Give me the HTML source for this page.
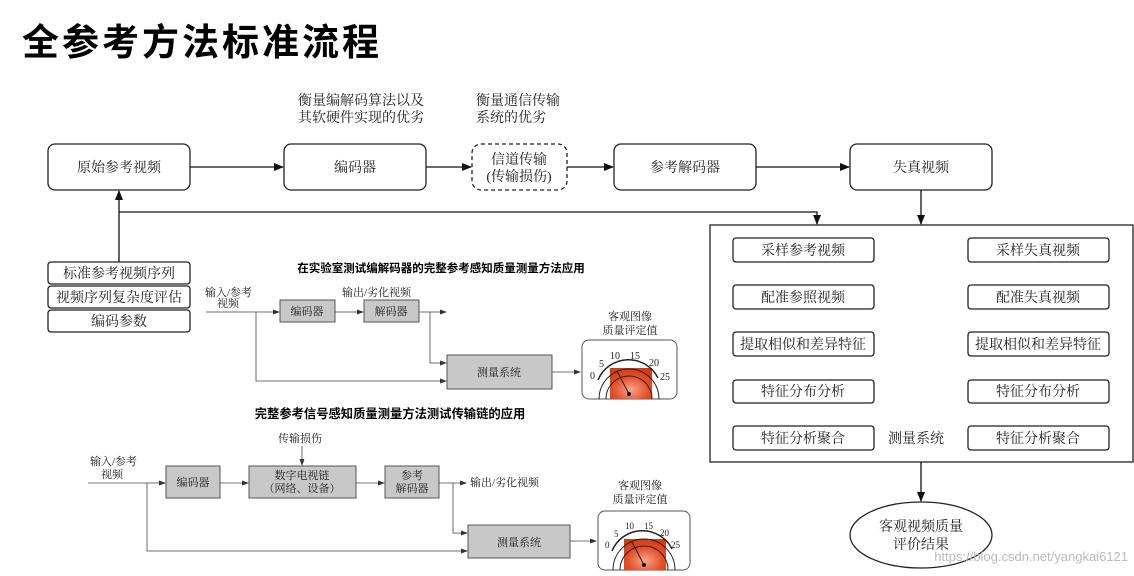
<!DOCTYPE html>
<html><head><meta charset="utf-8"><style>
html,body{margin:0;padding:0;background:#fff;}
svg{display:block;}
text{font-family:"Liberation Serif","Noto Serif CJK SC","Noto Sans CJK SC",serif;fill:#222;}
.s{font-family:"Liberation Sans","Noto Sans CJK SC",sans-serif;}
</style></head><body>
<svg width="1134" height="576" viewBox="0 0 1134 576" xmlns="http://www.w3.org/2000/svg">
<defs>
<marker id="a" markerWidth="10" markerHeight="10" refX="9" refY="5" orient="auto" markerUnits="userSpaceOnUse"><path d="M0,1 L10,5 L0,9 z" fill="#111"/></marker>
<marker id="b" markerWidth="7" markerHeight="7" refX="6" refY="3.5" orient="auto" markerUnits="userSpaceOnUse"><path d="M0,1 L7,3.5 L0,6 z" fill="#333"/></marker>
<radialGradient id="g" cx="0.5" cy="0.7" r="0.7"><stop offset="0" stop-color="#f7a58a"/><stop offset="0.6" stop-color="#e4502a"/><stop offset="1" stop-color="#d83a10"/></radialGradient>
</defs>
<text x="22" y="55" class="s" font-size="37" font-weight="bold" letter-spacing="3" style="fill:#000">全参考方法标准流程</text>

<g font-size="14">
<text x="298" y="105">衡量编解码算法以及</text>
<text x="298" y="122">其软硬件实现的优劣</text>
<text x="476" y="105">衡量通信传输</text>
<text x="476" y="122">系统的优劣</text>
</g>

<g fill="#fff" stroke="#222" stroke-width="1.3">
<rect x="48" y="144" width="142" height="46" rx="7"/>
<rect x="284" y="144" width="142" height="46" rx="7"/>
<rect x="472" y="144" width="95" height="46" rx="9" stroke-dasharray="4,3"/>
<rect x="614" y="144" width="142" height="46" rx="7"/>
<rect x="850" y="144" width="142" height="46" rx="7"/>
<rect x="48" y="262" width="142" height="22" rx="3"/>
<rect x="48" y="286" width="142" height="22" rx="3"/>
<rect x="48" y="310" width="142" height="22" rx="3"/>
<rect x="710" y="225" width="423" height="237"/>
</g>
<g font-size="14" text-anchor="middle">
<text x="119" y="172">原始参考视频</text>
<text x="355" y="172">编码器</text>
<text x="519" y="164">信道传输</text>
<text x="519" y="181">(传输损伤)</text>
<text x="685" y="172">参考解码器</text>
<text x="921" y="172">失真视频</text>
<text x="119" y="278">标准参考视频序列</text>
<text x="119" y="302">视频序列复杂度评估</text>
<text x="119" y="326">编码参数</text>
</g>
<g stroke="#111" stroke-width="1.3" fill="none" marker-end="url(#a)">
<line x1="190" y1="167" x2="283" y2="167"/>
<line x1="426" y1="167" x2="471" y2="167"/>
<line x1="567" y1="167" x2="613" y2="167"/>
<line x1="756" y1="167" x2="849" y2="167"/>
<line x1="921" y1="190" x2="921" y2="224"/>
<line x1="119" y1="262" x2="119" y2="191"/>
<polyline points="119,212 817,212 817,224"/>
<line x1="921" y1="462" x2="921" y2="501"/>
</g>

<g fill="#fff" stroke="#222" stroke-width="1.3">
<rect x="733" y="238" width="141" height="24" rx="3"/>
<rect x="733" y="285" width="141" height="24" rx="3"/>
<rect x="733" y="332" width="141" height="24" rx="3"/>
<rect x="733" y="380" width="141" height="23" rx="3"/>
<rect x="733" y="426" width="141" height="24" rx="3"/>
<rect x="968" y="238" width="141" height="24" rx="3"/>
<rect x="968" y="285" width="141" height="24" rx="3"/>
<rect x="968" y="332" width="141" height="24" rx="3"/>
<rect x="968" y="380" width="141" height="23" rx="3"/>
<rect x="968" y="426" width="141" height="24" rx="3"/>
<ellipse cx="921" cy="535" rx="71" ry="33"/>
</g>
<g font-size="14" text-anchor="middle">
<text x="803" y="255">采样参考视频</text>
<text x="803" y="302">配准参照视频</text>
<text x="803" y="349">提取相似和差异特征</text>
<text x="803" y="396">特征分布分析</text>
<text x="803" y="443">特征分析聚合</text>
<text x="1038" y="255">采样失真视频</text>
<text x="1038" y="302">配准失真视频</text>
<text x="1038" y="349">提取相似和差异特征</text>
<text x="1038" y="396">特征分布分析</text>
<text x="1038" y="443">特征分析聚合</text>
<text x="916" y="443">测量系统</text>
<text x="921" y="531">客观视频质量</text>
<text x="921" y="549">评价结果</text>
</g>
<text x="1128" y="561" class="s" font-size="13" text-anchor="end" style="fill:#bbb">https://blog.csdn.net/yangkai6121</text>

<!-- diagram 1 -->
<text x="441" y="272" class="s" font-size="11.5" font-weight="bold" text-anchor="middle" style="fill:#000">在实验室测试编解码器的完整参考感知质量测量方法应用</text>
<g font-size="11" style="fill:#444">
<text x="205" y="296">输入/参考</text>
<text x="217" y="307">视频</text>
<text x="342" y="296">输出/劣化视频</text>
<text x="630" y="320" text-anchor="middle">客观图像</text>
<text x="630" y="334" text-anchor="middle">质量评定值</text>
</g>
<g fill="#c8c8c8" stroke="#555" stroke-width="1">
<rect x="280" y="300" width="55" height="22"/>
<rect x="364" y="300" width="55" height="22"/>
<rect x="447" y="355" width="105" height="34"/>
</g>
<g font-size="11" text-anchor="middle" style="fill:#333">
<text x="307" y="315">编码器</text>
<text x="391" y="315">解码器</text>
<text x="499" y="376">测量系统</text>
</g>
<g stroke="#444" stroke-width="0.8" fill="none" marker-end="url(#b)">
<line x1="206" y1="312" x2="279" y2="312"/>
<line x1="335" y1="312" x2="363" y2="312"/>
<line x1="419" y1="312" x2="446" y2="312"/>
<polyline points="430,312 430,363 446,363"/>
<polyline points="256,312 256,381 446,381"/>
<line x1="552" y1="372" x2="580" y2="372"/>
</g>
<rect x="582" y="340" width="95" height="59" rx="7" fill="#fff" stroke="#555"/>
<rect x="610" y="368" width="42" height="31" fill="url(#g)"/>
<g fill="none" stroke="#222" stroke-width="1">
<path d="M599,399 A30,30 0 0 1 659,399"/>
<path d="M606,399 A23,23 0 0 1 652,399"/>
<path d="M598,380 A33,33 0 0 1 658,378" stroke-width="1.5"/>
<line x1="629" y1="394" x2="617" y2="371"/>
</g>
<circle cx="629" cy="394" r="2" fill="#000"/>
<g font-size="10" style="fill:#222">
<text x="590" y="379">0</text><text x="599" y="367">5</text><text x="610" y="359">10</text><text x="630" y="359">15</text><text x="649" y="366">20</text><text x="660" y="380">25</text>
</g>

<!-- diagram 2 -->
<text x="390" y="418" class="s" font-size="12.3" font-weight="bold" text-anchor="middle" style="fill:#000">完整参考信号感知质量测量方法测试传输链的应用</text>
<g font-size="11" style="fill:#444">
<text x="278" y="442">传输损伤</text>
<text x="90" y="465">输入/参考</text>
<text x="101" y="478">视频</text>
<text x="470" y="486">输出/劣化视频</text>
<text x="640" y="489" text-anchor="middle">客观图像</text>
<text x="640" y="503" text-anchor="middle">质量评定值</text>
</g>
<g fill="#c8c8c8" stroke="#555" stroke-width="1">
<rect x="166" y="466" width="54" height="32"/>
<rect x="249" y="466" width="107" height="32"/>
<rect x="385" y="466" width="54" height="32"/>
<rect x="468" y="525" width="102" height="33"/>
</g>
<g font-size="11" text-anchor="middle" style="fill:#333">
<text x="193" y="486">编码器</text>
<text x="302" y="479">数字电视链</text>
<text x="302" y="492">（网络、设备）</text>
<text x="412" y="479">参考</text>
<text x="412" y="492">解码器</text>
<text x="519" y="546">测量系统</text>
</g>
<g stroke="#444" stroke-width="0.8" fill="none" marker-end="url(#b)">
<line x1="302" y1="446" x2="302" y2="465"/>
<line x1="88" y1="483" x2="165" y2="483"/>
<line x1="220" y1="483" x2="248" y2="483"/>
<line x1="356" y1="483" x2="384" y2="483"/>
<line x1="439" y1="483" x2="466" y2="483"/>
<polyline points="453,483 453,533 467,533"/>
<polyline points="147,483 147,551 467,551"/>
<line x1="570" y1="541" x2="596" y2="541"/>
</g>
<rect x="598" y="511" width="92" height="59" rx="7" fill="#fff" stroke="#555"/>
<rect x="624" y="539" width="42" height="31" fill="url(#g)"/>
<g fill="none" stroke="#222" stroke-width="1">
<path d="M613,570 A31,31 0 0 1 675,570"/>
<path d="M620,570 A24,24 0 0 1 668,570"/>
<path d="M612,551 A33,33 0 0 1 672,549" stroke-width="1.5"/>
<line x1="644" y1="565" x2="632" y2="542"/>
</g>
<circle cx="644" cy="565" r="2" fill="#000"/>
<g font-size="9" style="fill:#222">
<text x="605" y="548">0</text><text x="614" y="537">5</text><text x="625" y="529">10</text><text x="644" y="529">15</text><text x="660" y="536">20</text><text x="671" y="548">25</text>
</g>
</svg>
</body></html>
